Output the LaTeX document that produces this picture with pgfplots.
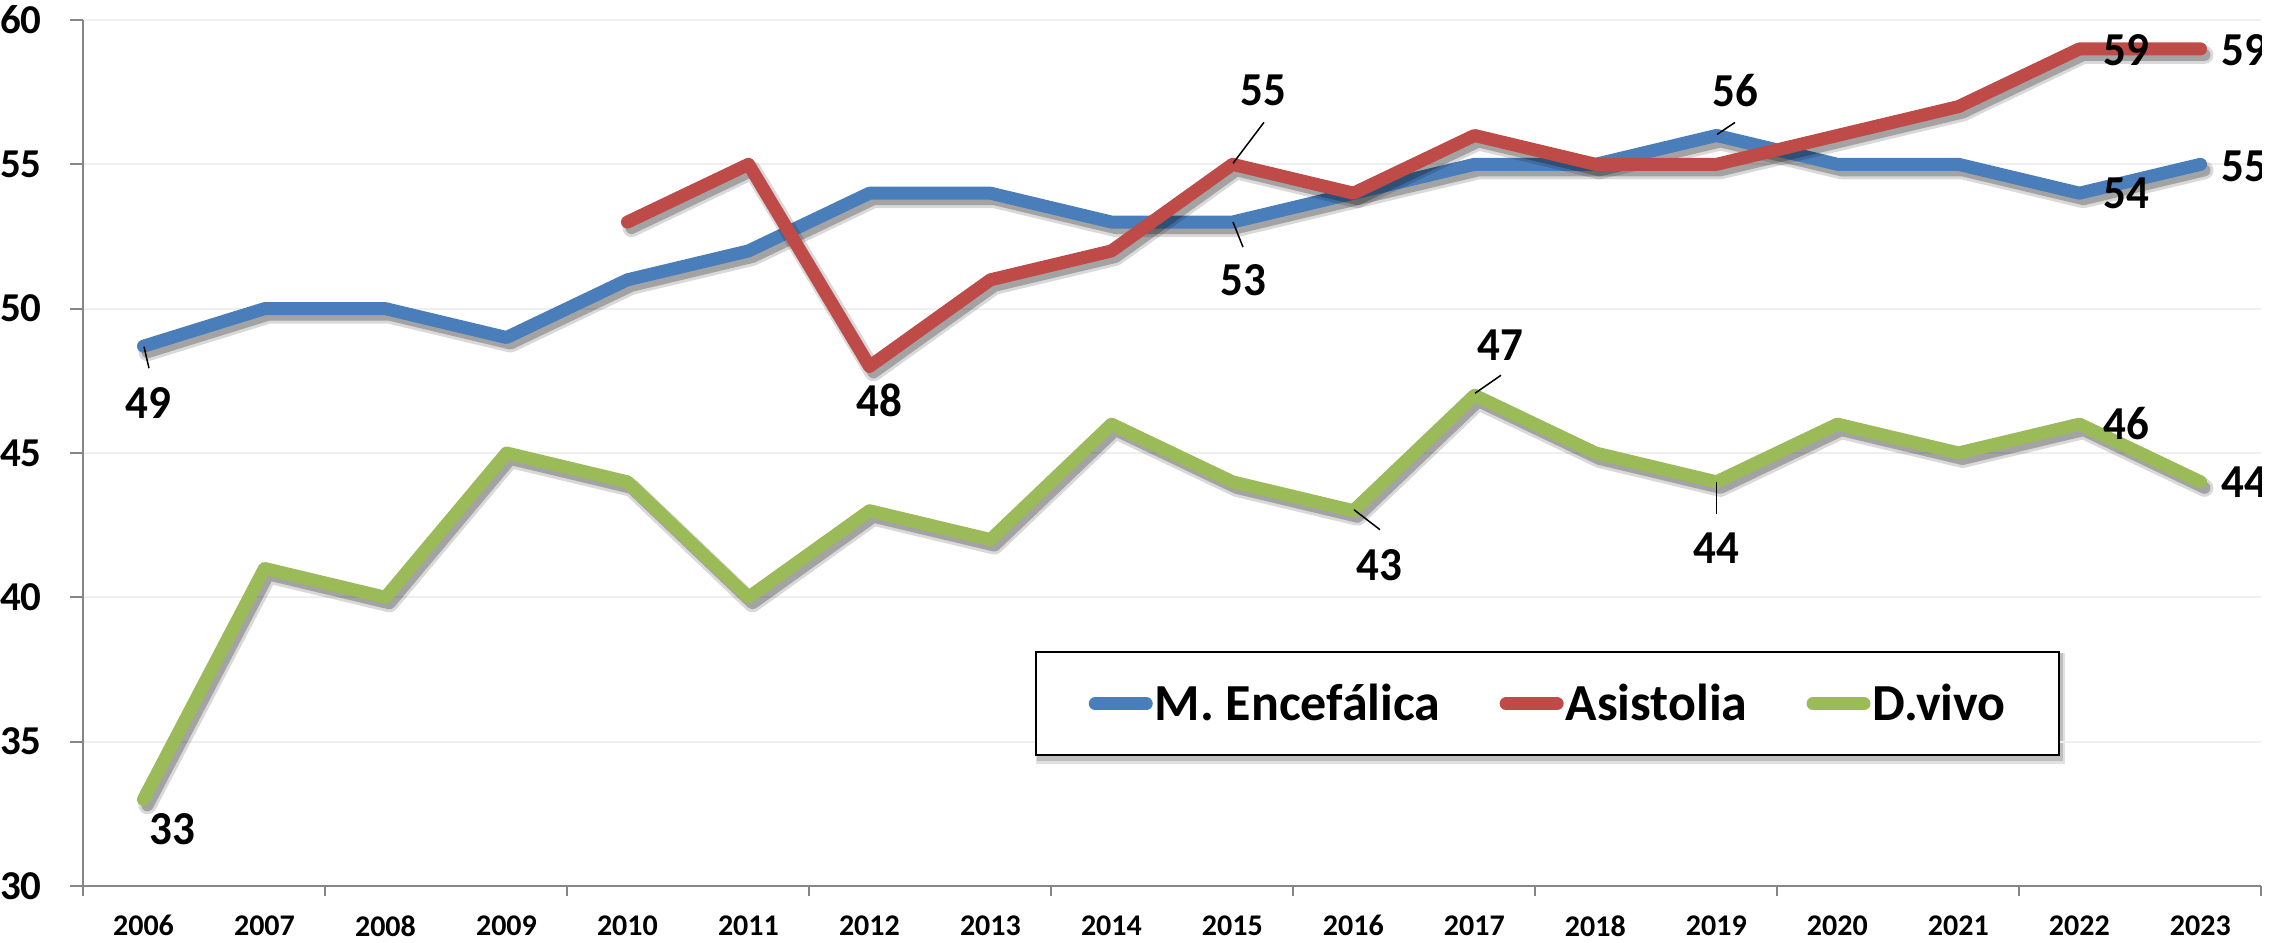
\documentclass[border=0pt]{standalone}
\usepackage{pgfplots}
\usepackage{pgfplotstable}
\pgfplotsset{compat=1.18}
\usepackage{fontspec}
\setmainfont{Carlito}
\usetikzlibrary{calc}
\pgfdeclarelayer{background}
\pgfsetlayers{background,main}
\definecolor{cblue}{HTML}{4A7EBB}
\definecolor{cred}{HTML}{BE4B48}
\definecolor{cgreen}{HTML}{9BBB59}
\definecolor{axgray}{HTML}{868686}
\definecolor{gridc}{HTML}{EFEFEF}

\pgfplotstableread{
x y
2006 48.7
2007 50
2008 50
2009 49
2010 51
2011 52
2012 54
2013 54
2014 53
2015 53
2016 54
2017 55
2018 55
2019 56
2020 55
2021 55
2022 54
2023 55
}\tblue
\pgfplotstableread{
x y
2010 53
2011 55
2012 48
2013 51
2014 52
2015 55
2016 54
2017 56
2018 55
2019 55
2020 56
2021 57
2022 59
2023 59
}\tred
\pgfplotstableread{
x y
2006 33
2007 41
2008 40
2009 45
2010 44
2011 40
2012 43
2013 42
2014 46
2015 44
2016 43
2017 47
2018 45
2019 44
2020 46
2021 45
2022 46
2023 44
}\tgreen

\newcommand{\dlfont}{\fontsize{22.5}{27}\selectfont\bfseries}
\newcommand{\lab}[5]{\node[font=\dlfont, inner sep=0pt, yscale=1.05] at ([shift={(#3,#4)}]axis cs:#1,#2) {#5};}
\newcommand{\lead}[6]{\draw[black, line width=0.75pt] ([shift={(#3,#4)}]axis cs:#1,#2) -- ([shift={(#5,#6)}]axis cs:#1,#2);}

\begin{document}
\begin{tikzpicture}
\begin{axis}[name=ax, scale only axis, width=1089pt, height=433pt,
  xmin=2005.5, xmax=2023.5, ymin=30, ymax=60,
  axis lines=left, axis line style={-, draw=axgray, line width=1pt},
  xtick={2006,...,2023},
  minor xtick={2005.5,2007.5,2009.5,2011.5,2013.5,2015.5,2017.5,2019.5,2021.5,2023.5},
  ytick={30,35,...,60},
  tick align=outside, major tick length=6.5pt, minor tick length=5pt,
  tick style={draw=axgray, line width=1pt},
  every major x tick/.append style={draw=none},
  ymajorgrids, grid style={draw=gridc, line width=1pt},
  /pgf/number format/assume math mode=true,
  /pgf/number format/1000 sep={},
  xticklabel style={font=\fontsize{15}{18}\selectfont\bfseries, anchor=north, inner sep=0pt, yshift=-8pt},
  yticklabel style={font=\fontsize{20.5}{24}\selectfont\bfseries, anchor=east, inner sep=0pt, xshift=-14pt},
  legend columns=3,
  legend image code/.code={\draw[#1, line cap=round] (3.25pt,0pt) -- (28.75pt,0pt);},
  legend style={name=leg, at={(rel axis cs:0.437,0.2714)}, anchor=north west, draw=black, line width=1pt, fill=white,
    font=\fontsize{26}{31}\selectfont\bfseries, inner xsep=26.5pt, inner ysep=16pt,
    nodes={inner sep=0pt},
    /tikz/every odd column/.append style={column sep=1pt},
    /tikz/every even column/.append style={column sep=29.5pt}},
  shad/.style={forget plot, draw=black, line join=round, line cap=round, xshift=2pt, yshift=-3pt},
  ser/.style={line width=6.5pt, line join=round, line cap=round, mark=none},
]
% blue
\addplot[shad, opacity=0.15, line width=9pt] table[x=x,y=y] {\tblue};
\addplot[shad, opacity=0.25, line width=6pt] table[x=x,y=y] {\tblue};
\addplot[ser, draw=cblue] table[x=x,y=y] {\tblue};
\addlegendentry{M. Encefálica}
% red
\addplot[shad, opacity=0.15, line width=9pt] table[x=x,y=y] {\tred};
\addplot[shad, opacity=0.25, line width=6pt] table[x=x,y=y] {\tred};
\addplot[ser, draw=cred] table[x=x,y=y] {\tred};
\addlegendentry{Asistolia}
% green
\addplot[shad, opacity=0.15, line width=9pt] table[x=x,y=y] {\tgreen};
\addplot[shad, opacity=0.25, line width=6pt] table[x=x,y=y] {\tgreen};
\addplot[ser, draw=cgreen] table[x=x,y=y] {\tgreen};
\addlegendentry{D.vivo}

% data labels
\lab{2006}{48.7}{2.25pt}{-28.5pt}{49}
\lead{2006}{48.7}{0.25pt}{-0.25pt}{2.75pt}{-11pt}
\lab{2012}{48}{4.75pt}{-17pt}{48}
\lab{2015}{53}{5.25pt}{-29pt}{53}
\lead{2015}{53}{0.25pt}{0pt}{5.25pt}{-12.5pt}
\lab{2015}{55}{15.25pt}{37pt}{55}
\lead{2015}{55}{0.25pt}{0.5pt}{15.75pt}{21pt}
\lab{2019}{56}{9.25pt}{22.5pt}{56}
\lead{2019}{56}{0.25pt}{0.5pt}{9.25pt}{6.5pt}
\lab{2022}{54}{23.25pt}{0pt}{54}
\lab{2022}{59}{23.25pt}{-0.5pt}{59}
\lab{2023}{59}{22pt}{-0.5pt}{59}
\lab{2023}{55}{22pt}{-1pt}{55}
\lab{2006}{33}{14.25pt}{-15pt}{33}
\lab{2016}{43}{12.75pt}{-27pt}{43}
\lead{2016}{43}{0.25pt}{0.5pt}{13.25pt}{-9.5pt}
\lab{2017}{47}{12.75pt}{25pt}{47}
\lead{2017}{47}{0.25pt}{1pt}{13.25pt}{10pt}
\lab{2019}{44}{-0.25pt}{-33pt}{44}
\lead{2019}{44}{0pt}{0pt}{0pt}{-16pt}
\lab{2022}{46}{23.25pt}{0.5pt}{46}
\lab{2023}{44}{22pt}{0pt}{44}
\end{axis}
\begin{pgfonlayer}{background}
\fill[black, opacity=0.12] ([shift={(0.5pt,-4pt)}]leg.south west) rectangle ([shift={(2.5pt,-1pt)}]leg.north east);
\fill[black, opacity=0.15] ([shift={(1pt,-2.5pt)}]leg.south west) rectangle ([shift={(1.5pt,-1pt)}]leg.north east);
\end{pgfonlayer}
\pgfresetboundingbox
\path ($(ax.south west)+(-41.5pt,-28.5pt)$) rectangle ($(ax.north east)+(5.5pt,10pt)$);
\end{tikzpicture}
\end{document}
